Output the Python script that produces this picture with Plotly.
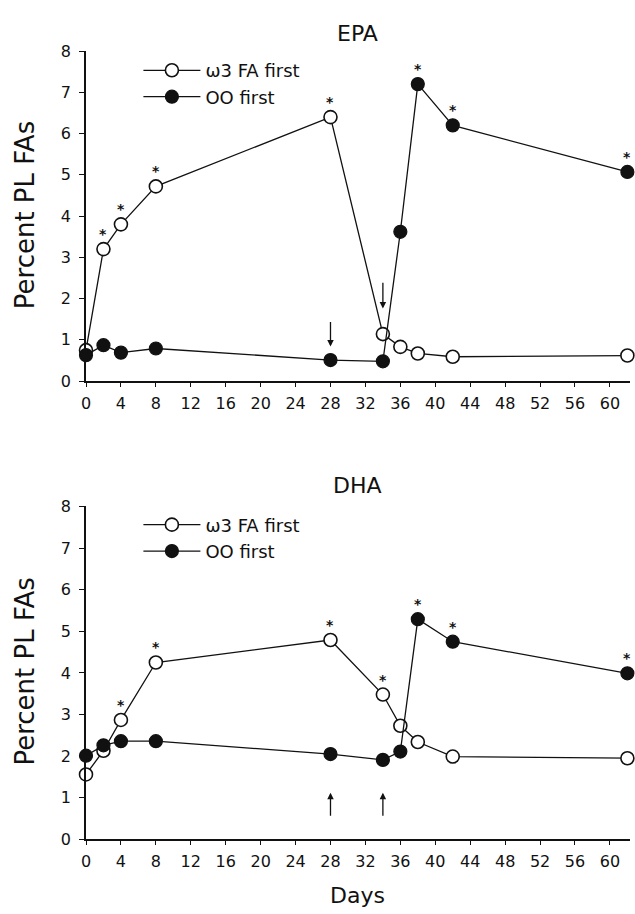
import plotly.graph_objects as go

# ---- data ----
days = [0, 2, 4, 8, 28, 34, 36, 38, 42, 62]
epa_w3 = [0.75, 3.2, 3.8, 4.72, 6.4, 1.14, 0.83, 0.67, 0.59, 0.62]
epa_oo = [0.63, 0.87, 0.69, 0.79, 0.51, 0.48, 3.62, 7.2, 6.2, 5.07]
dha_w3 = [1.56, 2.13, 2.87, 4.25, 4.79, 3.48, 2.73, 2.34, 1.99, 1.95]
dha_oo = [2.01, 2.26, 2.36, 2.36, 2.05, 1.91, 2.11, 5.29, 4.75, 3.99]

epa_w3_sig = [2, 4, 8, 28]
epa_oo_sig = [38, 42, 62]
dha_w3_sig = [4, 8, 28, 34]
dha_oo_sig = [38, 42, 62]

# arrows: day, tail value, head value
epa_arrow_days = [28, 34]
epa_arrow_tail = [1.47, 2.42]
epa_arrow_head = [0.84, 1.76]
dha_arrow_days = [28, 34]
dha_arrow_tail = [0.53, 0.53]
dha_arrow_head = [1.12, 1.12]

x_ticks = [0, 4, 8, 12, 16, 20, 24, 28, 32, 36, 40, 44, 48, 52, 56, 60]
y_ticks = [0, 1, 2, 3, 4, 5, 6, 7, 8]

FONT = "DejaVu Sans, sans-serif"
BLACK = "#111111"

W, H = 635, 914
L, R = 85.5, 4.5
PW = W - L - R

def px_x(p):
    return (p - L) / PW

def px_y(p):
    return (H - p) / H

fig = go.Figure()

def add_pair(xa, ya, w3, oo, legend):
    fig.add_trace(go.Scatter(
        x=days, y=w3, mode="lines+markers", name="ω3 FA first",
        xaxis=xa, yaxis=ya, legend=legend, cliponaxis=False,
        line=dict(color=BLACK, width=1.3),
        marker=dict(symbol="circle", size=13, color="white",
                    line=dict(color=BLACK, width=1.6))))
    fig.add_trace(go.Scatter(
        x=days, y=oo, mode="lines+markers", name="OO first",
        xaxis=xa, yaxis=ya, legend=legend, cliponaxis=False,
        line=dict(color=BLACK, width=1.3),
        marker=dict(symbol="circle", size=13, color=BLACK,
                    line=dict(color=BLACK, width=1.2))))

add_pair("x", "y", epa_w3, epa_oo, "legend")
add_pair("x2", "y2", dha_w3, dha_oo, "legend2")

annotations = []

def stars(xr, yr, vals, sig):
    for d, v in zip(days, vals):
        if d in sig:
            annotations.append(dict(x=d, y=v, xref=xr, yref=yr, text="<b>*</b>",
                                    showarrow=False, yshift=15,
                                    font=dict(family=FONT, size=14, color=BLACK)))

stars("x", "y", epa_w3, epa_w3_sig)
stars("x", "y", epa_oo, epa_oo_sig)
stars("x2", "y2", dha_w3, dha_w3_sig)
stars("x2", "y2", dha_oo, dha_oo_sig)

def arrows(xr, yr, ds, tails, heads):
    for d, t, h in zip(ds, tails, heads):
        annotations.append(dict(x=d, y=h, ax=d, ay=t, xref=xr, yref=yr,
                                axref=xr, ayref=yr, text="", showarrow=True,
                                arrowhead=2, arrowsize=1.0, arrowwidth=1.3,
                                arrowcolor=BLACK))

arrows("x", "y", epa_arrow_days, epa_arrow_tail, epa_arrow_head)
arrows("x2", "y2", dha_arrow_days, dha_arrow_tail, dha_arrow_head)

def label(text, x, y, size, angle=0):
    annotations.append(dict(text=text, x=px_x(x), y=px_y(y), xref="paper", yref="paper",
                            xanchor="center", yanchor="middle", showarrow=False,
                            textangle=angle, font=dict(family=FONT, size=size, color=BLACK)))

label("EPA", 357, 25, 22)
label("DHA", 357, 487, 22)
label("Days", 357, 905, 22)
label("Percent PL FAs", 24, 211, 26, -90)
label("Percent PL FAs", 24, 677, 26, -90)

def dom(top, bottom):
    return [px_y(bottom), px_y(top)]

XR = [0, 62.3]
xcommon = dict(range=XR, tickvals=x_ticks, showline=True, linecolor=BLACK,
               linewidth=1.6, ticks="outside", ticklen=4, tickwidth=1.3,
               tickcolor=BLACK, showgrid=False, zeroline=False, ticklabelstandoff=3,
               tickfont=dict(family=FONT, size=16, color=BLACK))
ycommon = dict(range=[0, 8], tickvals=y_ticks, showline=True, linecolor=BLACK,
               linewidth=1.6, ticks="outside", ticklen=5, tickwidth=1.3,
               tickcolor=BLACK, showgrid=False, zeroline=False, ticklabelstandoff=5,
               tickfont=dict(family=FONT, size=16, color=BLACK))
# inner tick halves so ticks cross the axis lines
xinner = dict(range=XR, tickvals=x_ticks, showline=False, ticks="inside",
              ticklen=4, tickwidth=1.3, tickcolor=BLACK, showticklabels=False,
              showgrid=False, zeroline=False)
yinner = dict(range=[0, 8], tickvals=y_ticks, showline=False, ticks="inside",
              ticklen=5, tickwidth=1.3, tickcolor=BLACK, showticklabels=False,
              showgrid=False, zeroline=False)

legcommon = dict(font=dict(family=FONT, size=18, color=BLACK), bgcolor="rgba(0,0,0,0)",
                 itemwidth=57, tracegroupgap=0, xanchor="left", yanchor="top",
                 x=px_x(138))

fig.update_layout(
    width=W, height=H,
    margin=dict(l=L, r=R, t=0, b=0),
    paper_bgcolor="white", plot_bgcolor="white",
    showlegend=True,
    xaxis=dict(domain=[0, 1], anchor="y", **xcommon),
    yaxis=dict(domain=dom(43, 380), anchor="x", **ycommon),
    xaxis2=dict(domain=[0, 1], anchor="y2", **xcommon),
    yaxis2=dict(domain=dom(508, 848), anchor="x2", **ycommon),
    xaxis3=dict(overlaying="x", anchor="y", **xinner),
    yaxis3=dict(overlaying="y", anchor="x", **yinner),
    xaxis4=dict(overlaying="x2", anchor="y2", **xinner),
    yaxis4=dict(overlaying="y2", anchor="x2", **yinner),
    legend=dict(y=px_y(44), **legcommon),
    legend2=dict(y=px_y(508), **legcommon),
    annotations=annotations,
)

fig.write_html("out.html", config={"displayModeBar": False},
               post_script="document.body.style.margin='0';")
